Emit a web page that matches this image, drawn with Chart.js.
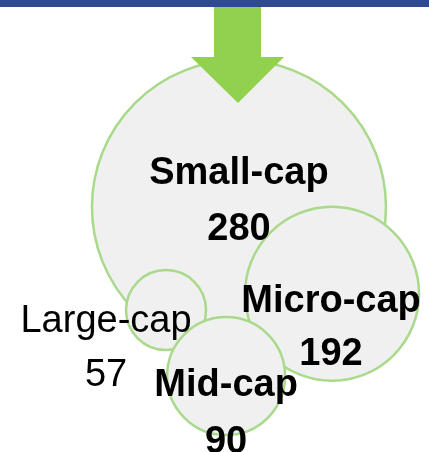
<!DOCTYPE html>
<html>
<head>
<meta charset="utf-8">
<script src="https://cdn.jsdelivr.net/npm/chart.js@4.4.1/dist/chart.umd.min.js"></script>
<style>
    html, body { margin: 0; padding: 0; background: #fff; }
    #wrap { width: 429px; height: 452px; position: relative; }
</style>
</head>
<body>
<div id="wrap"><canvas id="capChart"></canvas></div>
<script>
// Data
const categories = ['Small-cap', 'Micro-cap', 'Large-cap', 'Mid-cap'];
const counts = [280, 192, 57, 90];
const bubbleX = [55.7, 77.4, 38.7, 52.7];
const bubbleY = [54.2, 35.0, 31.4, 16.8];
const bubbleR = [147, 87, 40, 59];
const boldLabel = [true, true, false, true];

// label offsets from bubble centre (px): [dx, dy of first line middle, dy of second line middle]
const labelOffsets = [
    [0, -37, 19],
    [-1, 5, 58],
    [-60, 8, 62],
    [0, 6, 63]
];

const fillColor = '#F0F0F0';
const lineColor = '#A9D98A';

// top blue band + green arrow
const decorPlugin = {
    id: 'decor',
    afterDatasetsDraw(chart) {
        const ctx = chart.ctx;
        ctx.save();
        ctx.fillStyle = '#2F4A90';
        ctx.fillRect(0, 0, chart.width, 7);

        ctx.fillStyle = '#92D050';
        ctx.beginPath();
        ctx.moveTo(214, 7);
        ctx.lineTo(261, 7);
        ctx.lineTo(261, 57);
        ctx.lineTo(284, 57);
        ctx.lineTo(238, 103);
        ctx.lineTo(191, 57);
        ctx.lineTo(214, 57);
        ctx.closePath();
        ctx.fill();
        ctx.restore();
    }
};

// labels with category + count
const labelPlugin = {
    id: 'bubbleLabels',
    afterDatasetsDraw(chart) {
        const ctx = chart.ctx;
        const meta = chart.getDatasetMeta(0);
        ctx.save();
        ctx.fillStyle = '#000';
        ctx.textAlign = 'center';
        ctx.textBaseline = 'alphabetic';
        meta.data.forEach((pt, i) => {
            const off = labelOffsets[i];
            ctx.font = (boldLabel[i] ? 'bold ' : '') + '38px "Liberation Sans", Arial, sans-serif';
            const x = pt.x + off[0];
            ctx.fillText(categories[i], x, pt.y + off[1] + 13.6);
            ctx.fillText(String(counts[i]), x, pt.y + off[2] + 13.6);
        });
        ctx.restore();
    }
};

new Chart(document.getElementById('capChart'), {
    type: 'bubble',
    data: {
        datasets: [{
            label: 'Companies',
            data: categories.map((c, i) => ({ x: bubbleX[i], y: bubbleY[i], r: bubbleR[i] })),
            backgroundColor: fillColor,
            borderColor: lineColor,
            borderWidth: 2.5,
            hoverRadius: 0,
            clip: false
        }]
    },
    options: {
        responsive: true,
        maintainAspectRatio: false,
        animation: false,
        layout: { padding: 0, autoPadding: false },
        scales: {
            x: { display: false, min: 0, max: 100 },
            y: { display: false, min: 0, max: 100 }
        },
        plugins: {
            legend: { display: false },
            tooltip: { enabled: false }
        }
    },
    plugins: [labelPlugin, decorPlugin]
});
</script>
</body>
</html>
